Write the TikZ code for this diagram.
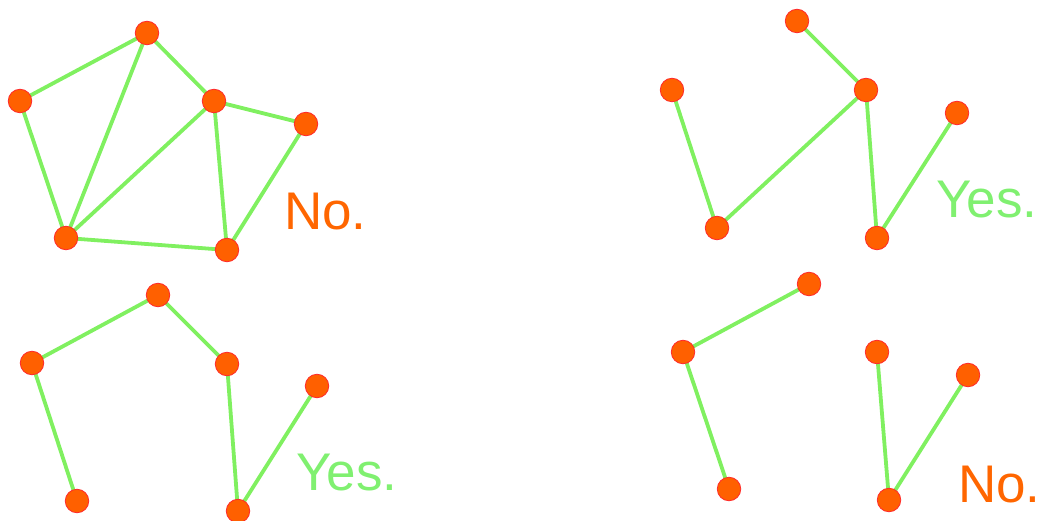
\documentclass[tikz,border=0pt]{standalone}
\usepackage{fontspec}
\setmainfont{Liberation Sans}
\definecolor{vfill}{HTML}{FF6000}
\definecolor{vdraw}{HTML}{FF2A2A}
\definecolor{edgeg}{HTML}{80F060}
\definecolor{noc}{HTML}{FF6600}
\definecolor{yesc}{HTML}{80F070}
\begin{document}
\begin{tikzpicture}[x=1pt,y=-1pt,
  vtx/.style={circle,fill=vfill,draw=vdraw,line width=0.8pt,minimum size=23.5pt,inner sep=0pt},
  edg/.style={edgeg,line width=3.8pt},
  lbl/.style={anchor=base west,inner sep=0pt,font=\fontsize{53}{60}\selectfont}]
\useasboundingbox (0,0) rectangle (1041,521);
% top-left
\coordinate (a1) at (147,33); \coordinate (b1) at (20,101); \coordinate (c1) at (214,101);
\coordinate (d1) at (306,124); \coordinate (e1) at (66,238); \coordinate (f1) at (227,250);
\draw[edg] (a1)--(b1) (a1)--(e1) (a1)--(c1) (b1)--(e1) (c1)--(e1) (c1)--(d1) (c1)--(f1) (e1)--(f1) (d1)--(f1);
\foreach \n in {a1,b1,c1,d1,e1,f1} \node[vtx] (v\n) at (\n) {};
\node[lbl,text=noc] (t1) at (284,230) {No.};
% top-right
\coordinate (a2) at (797,21); \coordinate (b2) at (672,90); \coordinate (c2) at (866,90);
\coordinate (d2) at (957,113); \coordinate (e2) at (717,228); \coordinate (f2) at (877,238);
\draw[edg] (a2)--(c2) (b2)--(e2) (c2)--(e2) (c2)--(f2) (d2)--(f2);
\foreach \n in {a2,b2,c2,d2,e2,f2} \node[vtx] (v\n) at (\n) {};
\node[lbl,text=yesc] (t2) at (936,218) {Yes.};
% bottom-left
\coordinate (a3) at (158,295); \coordinate (b3) at (32,363); \coordinate (c3) at (227,364);
\coordinate (d3) at (317,386); \coordinate (e3) at (77,501); \coordinate (f3) at (238,511);
\draw[edg] (b3)--(a3) (a3)--(c3) (b3)--(e3) (c3)--(f3) (d3)--(f3);
\foreach \n in {a3,b3,c3,d3,e3,f3} \node[vtx] (v\n) at (\n) {};
\node[lbl,text=yesc] (t3) at (296,490) {Yes.};
% bottom-right
\coordinate (a4) at (809,284); \coordinate (b4) at (683,352); \coordinate (c4) at (877,352);
\coordinate (d4) at (968,375); \coordinate (e4) at (729,489); \coordinate (f4) at (889,500);
\draw[edg] (a4)--(b4) (b4)--(e4) (c4)--(f4) (d4)--(f4);
\foreach \n in {a4,b4,c4,d4,e4,f4} \node[vtx] (v\n) at (\n) {};
\node[lbl,text=noc] (t4) at (958,502) {No.};
\end{tikzpicture}
\end{document}
